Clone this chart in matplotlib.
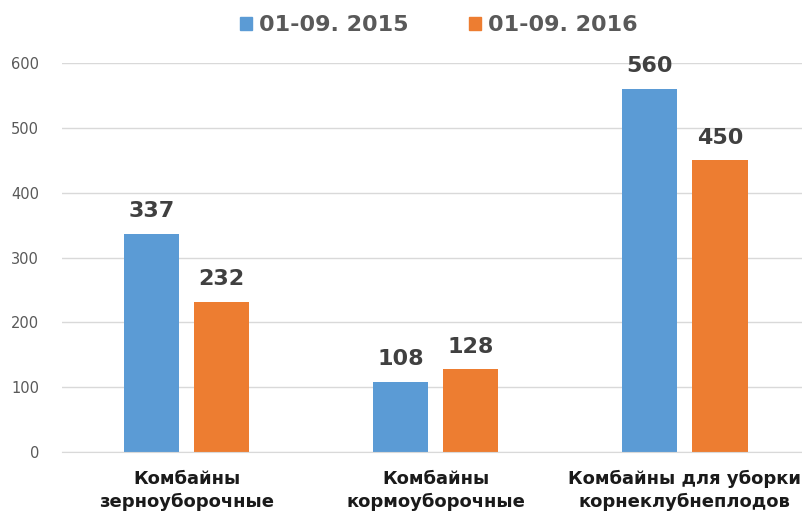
import numpy as np
import matplotlib.pyplot as plt
from matplotlib.patches import Patch

# Categories and series values
categories = ['Комбайны\nзерноуборочные', 'Комбайны\nкормоуборочные',
              'Комбайны для уборки\nкорнеклубнеплодов']
series_names = ['01-09. 2015', '01-09. 2016']
values_2015 = [337, 108, 560]
values_2016 = [232, 128, 450]
yticks = [0, 100, 200, 300, 400, 500, 600]

blue = '#5B9BD5'
orange = '#ED7D31'

fig = plt.figure(figsize=(8.02, 5.16), dpi=100)
ax = fig.add_axes([62 / 802, 64 / 516, 740 / 802, 389 / 516])

x = np.arange(len(categories))
w = 0.221
off = 0.141
b1 = ax.bar(x - off, values_2015, w, color=blue, zorder=2)
b2 = ax.bar(x + off, values_2016, w, color=orange, zorder=2)

for bars, vals in [(b1, values_2015), (b2, values_2016)]:
    for r, v in zip(bars, vals):
        ax.annotate(str(v), (r.get_x() + r.get_width() / 2, v), xytext=(0, 9),
                    textcoords='offset points', ha='center', va='bottom',
                    fontsize=16, fontweight='bold', color='#404040', clip_on=False)

ax.set_xlim(-0.5, 2.47)
ax.set_ylim(0, 600)
ax.set_yticks(yticks)
ax.yaxis.grid(True, color='#d9d9d9', linewidth=1, zorder=0)
ax.tick_params(axis='y', length=0, pad=16.5, labelsize=10.5, labelcolor='#595959')
ax.tick_params(axis='x', length=0, pad=13)
ax.set_xticks(x)
ax.set_xticklabels(categories, fontsize=13, fontweight='bold', color='#1a1a1a',
                   linespacing=1.35)
for s in ['top', 'right', 'left']:
    ax.spines[s].set_visible(False)
ax.spines['bottom'].set_color('#d9d9d9')

handles = [Patch(color=blue), Patch(color=orange)]
fig.legend(handles, series_names, loc='center', bbox_to_anchor=(0.547, 0.951),
           ncol=2, frameon=False, handlelength=0.55, handleheight=0.55,
           handletextpad=0.3, columnspacing=2.7,
           prop={'size': 16, 'weight': 'bold'}, labelcolor='#595959')

fig.savefig('out.png', dpi=100)
